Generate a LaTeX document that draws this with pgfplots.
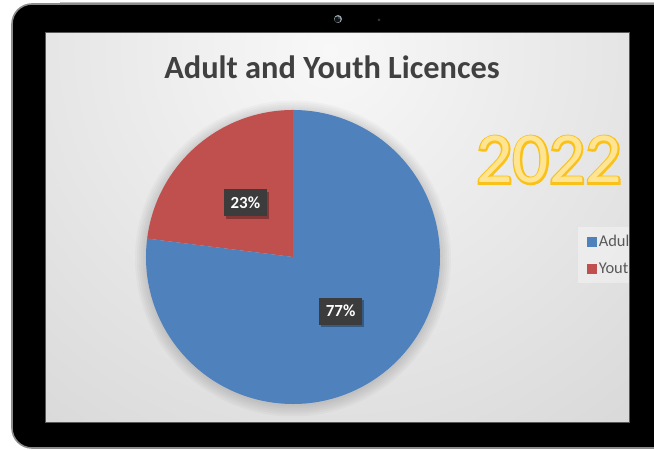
\documentclass[border=0pt]{standalone}
\usepackage{pgfplots}
\pgfplotsset{compat=1.18}
\usepackage{pgfplotstable}
\usepackage{fontspec}
\setmainfont{Carlito}
\newfontfamily\outlinefont{Carlito}[FakeBold=5]
\definecolor{pieblue}{HTML}{4F81BD}
\definecolor{piered}{HTML}{C0504D}
\definecolor{titlegray}{HTML}{404040}
\definecolor{legendgray}{HTML}{595959}
\definecolor{labelgray}{HTML}{3C3C3C}
\definecolor{yearfill}{HTML}{FFE593}
\definecolor{yearline}{HTML}{F9C21A}
\definecolor{scrinner}{HTML}{F8F8F8}
\definecolor{scrouter}{HTML}{BEBEBE}

\pgfplotstableread{
label value
Youth 23
Adult 77
}\licences

\begin{document}
\begin{tikzpicture}
\pgfplotstablegetelem{0}{value}\of\licences \let\vy\pgfplotsretval
\pgfplotstablegetelem{1}{value}\of\licences \let\va\pgfplotsretval
\pgfmathsetmacro\angA{90+3.6*\vy}
\pgfmathsetmacro\midY{90+1.8*\vy}
\pgfmathsetmacro\midA{\angA+1.8*\va}

\begin{scope}[x=1bp,y=1bp]
\useasboundingbox (0,0) rectangle (654,450);
\clip (0,0) rectangle (654,450);
\fill[white] (0,0) rectangle (654,450);
% screen background
\begin{scope}
\clip (45,27) rectangle (629,417);
\shade[inner color=scrinner, outer color=scrouter] (330,400) circle (900);
\end{scope}
% soft pie shadow
\foreach \r in {158,156,...,148} {\fill[black, fill opacity=0.022] (293,191.5) circle (\r);}
\end{scope}

\begin{axis}[at={(293bp,193bp)}, anchor=center, scale only axis,
  width=294bp, height=294bp, xmin=-1, xmax=1, ymin=-1, ymax=1,
  hide axis, clip=false,
  legend cell align=left,
  legend style={at={(1.469,0.602)}, anchor=north west, draw=none,
    fill=white, fill opacity=0.35, text opacity=1,
    font=\fontsize{16.5}{20}\selectfont, text=legendgray,
    inner xsep=9bp, inner ysep=6bp, row sep=10bp,
    nodes={inner xsep=2.3bp}}]
\addlegendimage{legend image code/.code={\fill[pieblue, fill opacity=1] (0bp,-4.5bp) rectangle (9bp,4.5bp);}}
\addlegendentry{Adult}
\addlegendimage{legend image code/.code={\fill[piered, fill opacity=1] (0bp,-4.5bp) rectangle (9bp,4.5bp);}}
\addlegendentry{Youth}
\fill[piered] (axis cs:0,0) -- (axis cs:0,1) arc[start angle=90, end angle=\angA, radius=147bp] -- cycle;
\fill[pieblue] (axis cs:0,0) -- (axis cs:{cos(\angA)},{sin(\angA)}) arc[start angle=\angA, end angle=450, radius=147bp] -- cycle;
\fill[black, fill opacity=0.3] ([xshift=2bp,yshift=-2.5bp]axis cs:{0.49*cos(\midY)},{0.49*sin(\midY)}) ++(-21.5bp,-13.5bp) rectangle ++(43bp,27bp);
\fill[black, fill opacity=0.3] ([xshift=2bp,yshift=-2.5bp]axis cs:{0.49*cos(\midA)},{0.49*sin(\midA)}) ++(-21.5bp,-13.5bp) rectangle ++(43bp,27bp);
\node[fill=labelgray, text=white, font=\bfseries\fontsize{17}{19}\selectfont,
  minimum width=43bp, minimum height=27bp, inner sep=0pt]
  at (axis cs:{0.49*cos(\midY)},{0.49*sin(\midY)}) {\vy\%};
\node[fill=labelgray, text=white, font=\bfseries\fontsize{17}{19}\selectfont,
  minimum width=43bp, minimum height=27bp, inner sep=0pt]
  at (axis cs:{0.49*cos(\midA)},{0.49*sin(\midA)}) {\va\%};
\end{axis}

\begin{scope}[x=1bp,y=1bp]
\clip (0,0) rectangle (654,450);
% title
\node[anchor=base, font=\bfseries\fontsize{32.5}{38}\selectfont, text=titlegray, inner sep=0pt] at (332,371) {Adult and Youth Licences};
% 2022
\node[anchor=base, font=\outlinefont\fontsize{72}{80}\selectfont, text=yearline, inner sep=0pt] at (549,267) {2022};
\node[anchor=base, font=\fontsize{72}{80}\selectfont, text=yearfill, inner sep=0pt] at (549,267) {2022};
% bezel
\fill[black, even odd rule] [rounded corners=20bp] (12,2) rectangle (720,446) [sharp corners] (45,27) rectangle (629,417);
\draw[black!45, line width=1.6bp, rounded corners=20bp] (12,2) rectangle (720,446);
\draw[black!25, line width=0.8bp] (60,447.5) -- (654,447.5);
\draw[black!65, line width=1bp] (45,27) rectangle (629,417);
% camera
\fill[black!75!cyan!50] (338,431) circle (4);
\fill[black!92] (337.5,430.5) circle (3);
\fill[cyan!50!black, fill opacity=0.6] (339,432) circle (1.2);
\fill[black!80] (379,430) circle (1.5);
\end{scope}
\end{tikzpicture}
\end{document}
